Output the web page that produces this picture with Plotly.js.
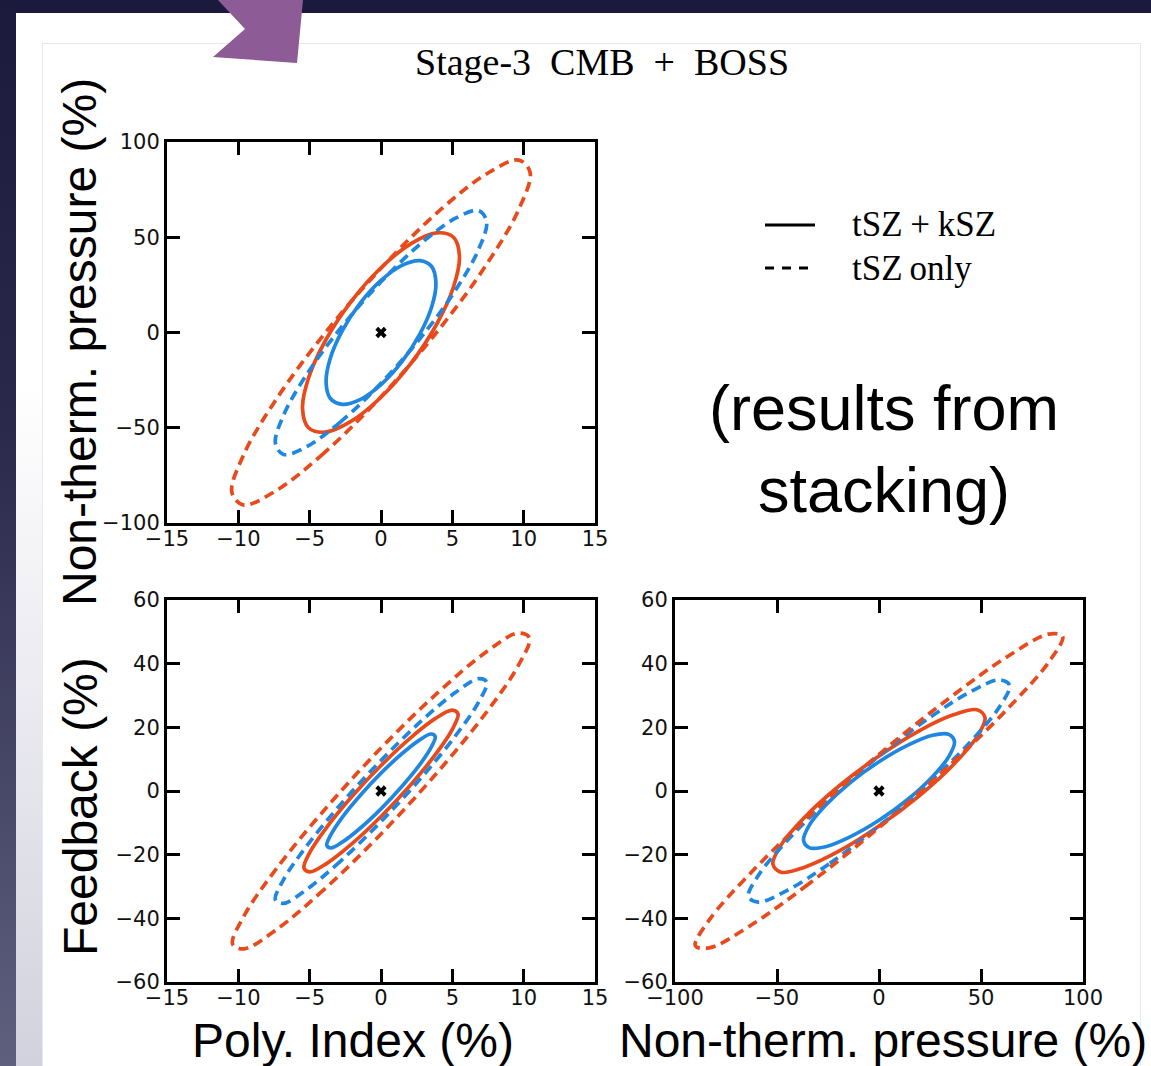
<!DOCTYPE html>
<html><head><meta charset="utf-8">
<script src="https://cdn.plot.ly/plotly-3.0.1.min.js"></script>
<style>
html,body{margin:0;padding:0;width:1151px;height:1066px;overflow:hidden;background:#1b1a3c;}
#white{position:absolute;left:16px;top:13px;width:1135px;height:1053px;background:#fff;}
#leftshade{position:absolute;left:16px;top:13px;width:26px;height:1053px;background:linear-gradient(to bottom,#ffffff 0%,#ffffff 35%,#d2d2de 100%);}
#leftdark{position:absolute;left:0;top:0;width:16px;height:1066px;background:linear-gradient(to bottom,#1b1a3c 0%,#2a294c 40%,#5f5f7e 100%);}
#frame{position:absolute;left:42px;top:43px;width:1097px;height:1030px;border:1px solid #e8e8ee;}
#arrow{position:absolute;left:0;top:0;}
#plot{position:absolute;left:0;top:0;width:1151px;height:1066px;}
</style></head>
<body>
<div id="white"></div><div id="leftshade"></div><div id="leftdark"></div><div id="frame"></div>
<svg id="arrow" width="320" height="70"><polygon points="218,0 245,29 213,57 297,63 303,0" fill="#8d5b96"/></svg>
<div id="plot"></div>
<script>
// ---------- data ----------
// Top-left panel: Poly. Index (x) vs Non-therm. pressure (y)
const tl_red_dash_x = [0,-4.0,-7.39,-9.66,-10.45,-9.66,-7.39,-4.0,0,4.0,7.39,9.66,10.45,9.66,7.39,4.0,0];
const tl_red_dash_y = [-33.7,-63.3,-83.2,-90.5,-84,-64.7,-35.6,-1.0,33.7,63.3,83.2,90.5,84,64.7,35.6,1.0,-33.7];
const tl_blue_dash_x = [0,-2.83,-5.23,-6.84,-7.4,-6.84,-5.23,-2.83,0,2.83,5.23,6.84,7.4,6.84,5.23,2.83,0];
const tl_blue_dash_y = [-26.6,-46.9,-60.0,-64.0,-58.2,-43.6,-22.3,2.3,26.6,46.9,60.0,64.0,58.2,43.6,22.3,-2.3,-26.6];
const tl_red_solid_x = [0,-2.11,-3.89,-5.08,-5.5,-5.08,-3.89,-2.11,0,2.11,3.89,5.08,5.5,5.08,3.89,2.11,0];
const tl_red_solid_y = [-34,-46.7,-52.3,-50.0,-40,-23.9,-4.2,16.1,34,46.7,52.3,50.0,40,23.9,4.2,-16.1,-34];
const tl_blue_solid_x = [0,-1.47,-2.72,-3.56,-3.85,-3.56,-2.72,-1.47,0,1.47,2.72,3.56,3.85,3.56,2.72,1.47,0];
const tl_blue_solid_y = [-27.3,-35.2,-37.7,-34.5,-26,-13.6,0.9,15.3,27.3,35.2,37.7,34.5,26,13.6,-0.9,-15.3,-27.3];

// Bottom-left panel: Poly. Index (x) vs Feedback (y)
const bl_red_dash_x = [0,-3.98,-7.35,-9.61,-10.4,-9.61,-7.35,-3.98,0,3.98,7.35,9.61,10.4,9.61,7.35,3.98,0];
const bl_red_dash_y = [-13.5,-30.9,-43.6,-49.6,-48.1,-39.3,-24.5,-6.0,13.5,30.9,43.6,49.6,48.1,39.3,24.5,6.0,-13.5];
const bl_blue_dash_x = [0,-2.83,-5.23,-6.84,-7.4,-6.84,-5.23,-2.83,0,2.83,5.23,6.84,7.4,6.84,5.23,2.83,0];
const bl_blue_dash_y = [-9.6,-22.0,-31.0,-35.3,-34.2,-27.9,-17.4,-4.2,9.6,22.0,31.0,35.3,34.2,27.9,17.4,4.2,-9.6];
const bl_red_solid_x = [0,-2.07,-3.82,-4.99,-5.4,-4.99,-3.82,-2.07,0,2.07,3.82,4.99,5.4,4.99,3.82,2.07,0];
const bl_red_solid_y = [-8.0,-16.7,-22.8,-25.4,-24.2,-19.3,-11.5,-1.9,8.0,16.7,22.8,25.4,24.2,19.3,11.5,1.9,-8.0];
const bl_blue_solid_x = [0,-1.46,-2.69,-3.51,-3.8,-3.51,-2.69,-1.46,0,1.46,2.69,3.51,3.8,3.51,2.69,1.46,0];
const bl_blue_solid_y = [-5.6,-11.7,-16.0,-17.9,-17.1,-13.7,-8.1,-1.4,5.6,11.7,16.0,17.9,17.1,13.7,8.1,1.4,-5.6];

// Bottom-right panel: Non-therm. pressure (x) vs Feedback (y)
const br_red_dash_x = [0,-34.5,-63.6,-83.2,-90,-83.2,-63.6,-34.5,0,34.5,63.6,83.2,90,83.2,63.6,34.5,0];
const br_red_dash_y = [-11.5,-29.2,-42.5,-49.3,-48.6,-40.5,-26.2,-8.0,11.5,29.2,42.5,49.3,48.6,40.5,26.2,8.0,-11.5];
const br_blue_dash_x = [0,-24.5,-45.2,-59.1,-64,-59.1,-45.2,-24.5,0,24.5,45.2,59.1,64,59.1,45.2,24.5,0];
const br_blue_dash_y = [-11,-22.9,-31.3,-34.9,-33.2,-26.5,-15.7,-2.6,11,22.9,31.3,34.9,33.2,26.5,15.7,2.6,-11];
const br_red_solid_x = [0,-19.9,-36.8,-48.0,-52,-48.0,-36.8,-19.9,0,19.9,36.8,48.0,52,48.0,36.8,19.9,0];
const br_red_solid_y = [-11,-19.0,-24.0,-25.5,-23,-17.0,-8.5,1.4,11,19.0,24.0,25.5,23,17.0,8.5,-1.4,-11];
const br_blue_solid_x = [0,-14.2,-26.2,-34.2,-37,-34.2,-26.2,-14.2,0,14.2,26.2,34.2,37,34.2,26.2,14.2,0];
const br_blue_solid_y = [-9.2,-14.4,-17.5,-17.8,-15.5,-10.8,-4.5,2.6,9.2,14.4,17.5,17.8,15.5,10.8,4.5,-2.6,-9.2];

// fiducial point
const fid_x = [0];
const fid_y = [0];

// ticks
const poly_ticks = [-15,-10,-5,0,5,10,15];
const ntp_ticks_tl = [-100,-50,0,50,100];
const fb_ticks = [-60,-40,-20,0,20,40,60];
const ntp_ticks_br = [-100,-50,0,50,100];

// texts
const title_text = 'Stage-3\u2002CMB\u2002+\u2002BOSS';
const legend_labels = ['tSZ\u205F+\u205FkSZ', 'tSZ\u2009only'];
const x_label_left = 'Poly. Index (%)';
const x_label_right = 'Non-therm. pressure (%)';
const y_label_top = 'Non-therm. pressure (%)';
const y_label_bottom = 'Feedback (%)';
const note_text = '(results from<br>stacking)';

// ---------- styling ----------
const RED = '#e84a1c', BLUE = '#1f87e0';
const W = 1151, H = 1066;
const fx = p => p / W, fy = p => 1 - p / H;
const lab = v => String(v).replace('-', '\u2212');

function curve(x, y, xa, ya, color, dashed) {
  return {x: x, y: y, xaxis: xa, yaxis: ya, type: 'scatter', mode: 'lines',
    line: {color: color, width: 3.7, dash: dashed ? '10px,6px' : 'solid', shape: 'spline', smoothing: 1},
    hoverinfo: 'skip', showlegend: false};
}
function fid(xa, ya) {
  return {x: fid_x, y: fid_y, xaxis: xa, yaxis: ya, type: 'scatter', mode: 'markers',
    marker: {symbol: 'x', size: 10, color: '#000', line: {width: 0}}, hoverinfo: 'skip', showlegend: false};
}

const traces = [
  curve(tl_blue_solid_x, tl_blue_solid_y, 'x', 'y', BLUE, false),
  curve(tl_red_solid_x, tl_red_solid_y, 'x', 'y', RED, false),
  curve(tl_blue_dash_x, tl_blue_dash_y, 'x', 'y', BLUE, true),
  curve(tl_red_dash_x, tl_red_dash_y, 'x', 'y', RED, true),
  fid('x', 'y'),
  curve(bl_blue_solid_x, bl_blue_solid_y, 'x2', 'y2', BLUE, false),
  curve(bl_red_solid_x, bl_red_solid_y, 'x2', 'y2', RED, false),
  curve(bl_blue_dash_x, bl_blue_dash_y, 'x2', 'y2', BLUE, true),
  curve(bl_red_dash_x, bl_red_dash_y, 'x2', 'y2', RED, true),
  fid('x2', 'y2'),
  curve(br_blue_solid_x, br_blue_solid_y, 'x3', 'y3', BLUE, false),
  curve(br_red_solid_x, br_red_solid_y, 'x3', 'y3', RED, false),
  curve(br_blue_dash_x, br_blue_dash_y, 'x3', 'y3', BLUE, true),
  curve(br_red_dash_x, br_red_dash_y, 'x3', 'y3', RED, true),
  fid('x3', 'y3')
];

function ax(domain, ticks, anchor, isX) {
  return {domain: domain, anchor: anchor, range: [ticks[0], ticks[ticks.length - 1]],
    tickmode: 'array', tickvals: ticks, ticktext: ticks.map(lab),
    ticks: 'inside', ticklen: 13, tickwidth: 3, tickcolor: '#000',
    showline: true, linewidth: 3, linecolor: '#000', mirror: 'ticks',
    showgrid: false, zeroline: false, fixedrange: true,
    ticklabelstandoff: isX ? -5 : 0,
    tickfont: {family: 'DejaVu Sans', size: 21, color: '#111'}};
}
const xdomL = [fx(167), fx(595)], xdomR = [fx(675), fx(1083)];
const ydomT = [fy(523), fy(142)], ydomB = [fy(982), fy(600)];

const ann = (text, x, y, size, family, extra) => Object.assign({
  text: text, xref: 'paper', yref: 'paper', x: fx(x), y: fy(y), xanchor: 'center', yanchor: 'middle',
  showarrow: false, font: {family: family, size: size, color: '#000'}}, extra || {});

const layout = {
  width: W, height: H, margin: {l: 0, r: 0, t: 0, b: 0},
  paper_bgcolor: 'rgba(0,0,0,0)', plot_bgcolor: 'rgba(0,0,0,0)', showlegend: false,
  xaxis: ax(xdomL, poly_ticks, 'y', true), yaxis: ax(ydomT, ntp_ticks_tl, 'x', false),
  xaxis2: ax(xdomL, poly_ticks, 'y2', true), yaxis2: ax(ydomB, fb_ticks, 'x2', false),
  xaxis3: ax(xdomR, ntp_ticks_br, 'y3', true), yaxis3: ax(ydomB, fb_ticks, 'x3', false),
  shapes: [
    {type: 'line', xref: 'paper', yref: 'paper', x0: fx(765), x1: fx(815), y0: fy(225), y1: fy(225), line: {color: '#000', width: 3}},
    {type: 'line', xref: 'paper', yref: 'paper', x0: fx(765), x1: fx(810), y0: fy(268), y1: fy(268), line: {color: '#000', width: 3, dash: '9px,8px'}}
  ],
  annotations: [
    ann(title_text, 602, 62, 38, 'Liberation Serif'),
    ann(legend_labels[0], 850, 224, 35, 'Liberation Serif', {xanchor: 'left'}),
    ann(legend_labels[1], 850, 268, 35, 'Liberation Serif', {xanchor: 'left'}),
    ann(note_text, 884, 449, 63, 'Liberation Sans'),
    ann(x_label_left, 353, 1040, 48, 'Liberation Sans'),
    ann(x_label_right, 883, 1040, 48, 'Liberation Sans'),
    ann(y_label_top, 80, 342, 48, 'Liberation Sans', {textangle: -90}),
    ann(y_label_bottom, 80, 807, 48, 'Liberation Sans', {textangle: -90})
  ]
};

Plotly.newPlot('plot', traces, layout, {staticPlot: true, displayModeBar: false});
</script>
</body></html>
